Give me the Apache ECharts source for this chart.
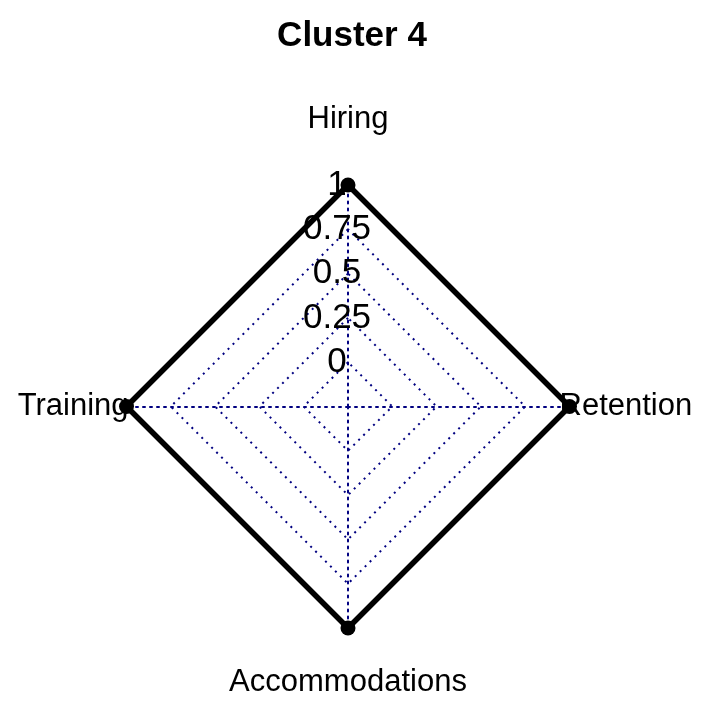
<!DOCTYPE html>
<html>
<head>
<meta charset="utf-8">
<script src="https://cdn.jsdelivr.net/npm/echarts@6/dist/echarts.min.js"></script>
<style>
html,body{margin:0;padding:0;background:#fff;}
#chart{width:704px;height:707px;}
</style>
</head>
<body>
<div id="chart"></div>
<script>
const titleText = "Cluster 4";
const categories = ["Hiring", "Training", "Accommodations", "Retention"];
const values = [1, 1, 1, 1];
const axisMin = -0.25;   // fmsb centre offset (one extra segment)
const axisMax = 1;
const tickLabels = ["0", "0.25", "0.5", "0.75", "1"];

const FONT = "Liberation Sans";
const chart = echarts.init(document.getElementById("chart"));

const namePad = {
  Hiring: [0, 0, 33, 0],
  Training: [0, 8, 0, 0],
  Accommodations: [97, 0, 0, 0],
  Retention: [0, 0, 0, 0]
};
const rich = {};
categories.forEach((c, i) => {
  rich["n" + i] = { fontFamily: FONT, fontSize: 31, color: "#000", padding: namePad[c], lineHeight: 31 };
});

chart.setOption({
  animation: false,
  backgroundColor: "#fff",
  title: {
    text: titleText,
    left: "center",
    top: 14,
    textStyle: { fontFamily: FONT, fontSize: 35, fontWeight: "bold", color: "#000" }
  },
  radar: {
    center: [348, 406.5],
    radius: 221.5,
    startAngle: 90,
    shape: "polygon",
    splitNumber: 5,
    nameGap: -10,
    axisName: {
      color: "#000",
      fontFamily: FONT,
      fontSize: 31,
      formatter: function (name) {
        return "{n" + categories.indexOf(name) + "|" + name + "}";
      },
      rich: rich
    },
    indicator: categories.map((c, i) => ({
      name: c,
      min: axisMin,
      max: axisMax,
      axisLabel: i === 0 ? {
        show: true,
        margin: 11,
        align: "center",
        verticalAlign: "middle",
        padding: [0, 0, 10, 0],
        fontFamily: FONT,
        fontSize: 35,
        color: "#000",
        formatter: function (v) {
          const k = Math.round(v / 0.25);
          return (v >= -1e-9) ? (tickLabels[k] || "") : "";
        }
      } : { show: false }
    })),
    axisLine: { show: true, lineStyle: { color: "#000080", width: 2, type: [2, 5] } },
    axisTick: { show: false },
    axisLabel: { show: false },
    splitLine: { show: true, lineStyle: { color: "#000080", width: 2, type: [2, 5] } },
    splitArea: { show: false }
  },
  series: [{
    type: "radar",
    symbol: "circle",
    symbolSize: 15,
    itemStyle: { color: "#000" },
    lineStyle: { color: "#000", width: 5.5 },
    data: [{ value: values, name: titleText }]
  }]
});
</script>
</body>
</html>
